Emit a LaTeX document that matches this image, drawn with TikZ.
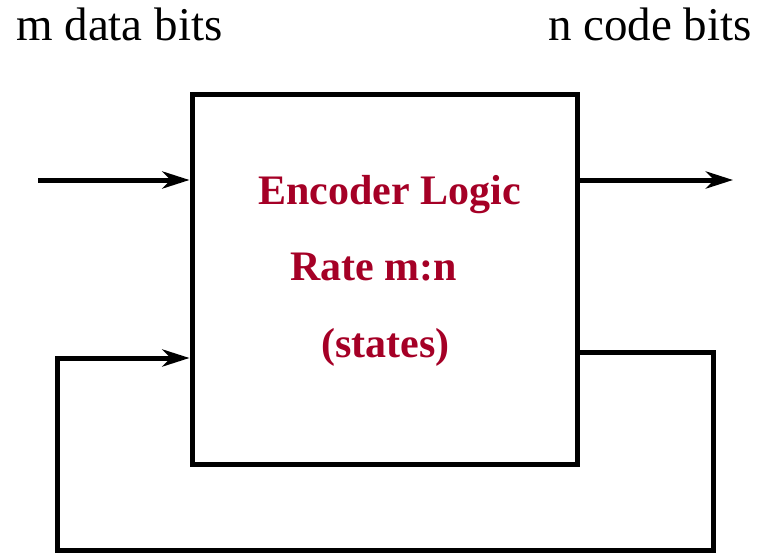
\documentclass[tikz,border=0pt]{standalone}
\usepackage{fontspec}
\setmainfont{Liberation Serif}
\usetikzlibrary{arrows.meta}
\definecolor{enc}{RGB}{165,0,38}
\begin{document}
\begin{tikzpicture}[x=1pt,y=-1pt,
  wire/.style={line width=5pt},
  arr/.style={wire,-{Stealth[length=27pt,width=17pt,inset=8pt]}},
  lbl/.style={font=\fontsize{47}{50}\selectfont,anchor=base west,inner sep=0pt},
  enctext/.style={font=\fontsize{42}{45}\selectfont\bfseries,text=enc,anchor=base west,inner sep=0pt}]
\useasboundingbox (0,0) rectangle (758,554);
\node[draw,line width=5pt,minimum width=385pt,minimum height=370pt,inner sep=0pt] (box) at (384.5,279.5) {};
\node[lbl] (mlbl) at (16,40) {m data bits};
\node[lbl] (nlbl) at (548,40) {n code bits};
\node[enctext] (t1) at (258,204) {Encoder Logic};
\node[enctext] (t2) at (290,280) {Rate m:n};
\node[enctext] (t3) at (321,357) {(states)};
\coordinate (in) at (38,180);
\coordinate (out) at (733,180);
\coordinate (fbr) at (713,352);
\coordinate (fbrb) at (713,550);
\coordinate (fblb) at (57,550);
\coordinate (fbl) at (57,358);
\draw[arr] (in) -- (in -| box.west);
\draw[arr] (out -| box.east) -- (out);
\draw[arr] (fbr -| box.east) -- (fbr) -- (fbrb) -- (fblb) -- (fbl) -- (fbl -| box.west);
\end{tikzpicture}
\end{document}
